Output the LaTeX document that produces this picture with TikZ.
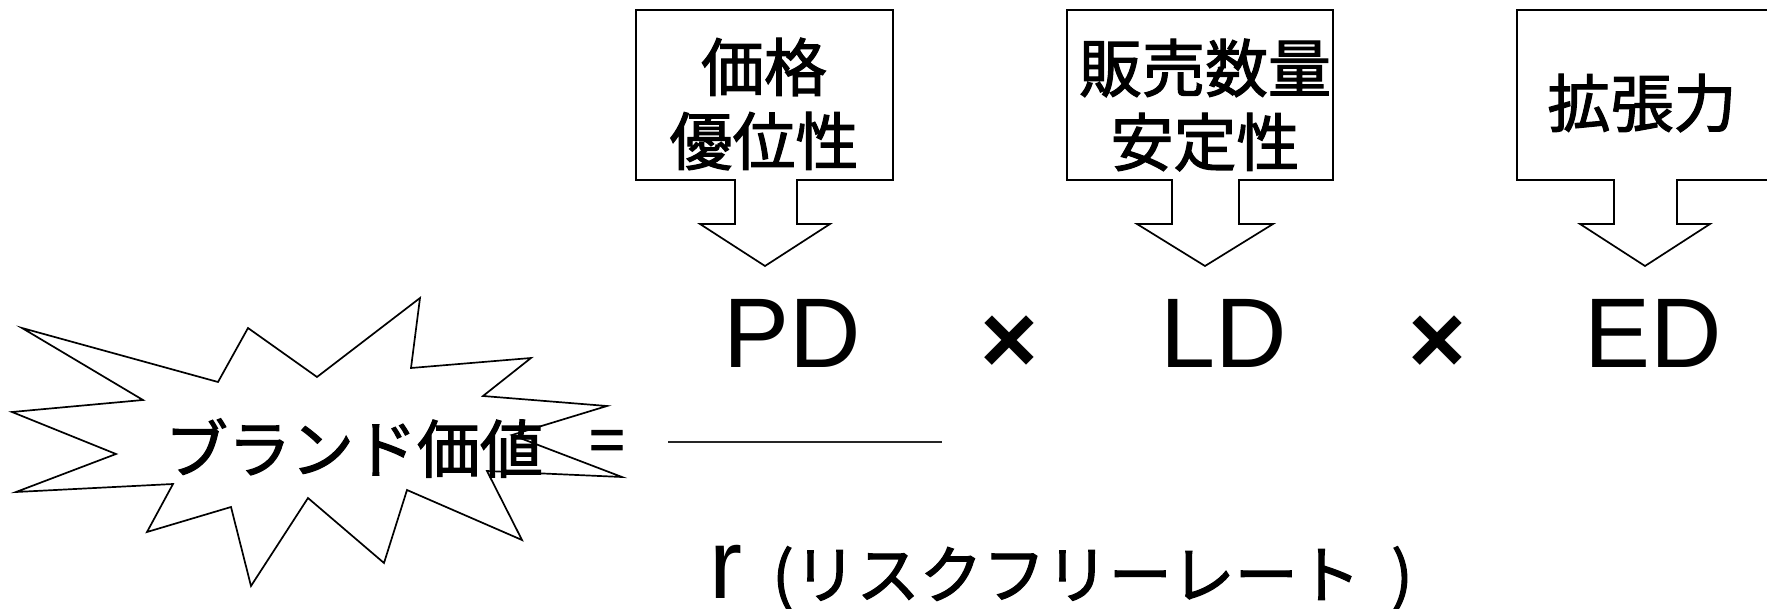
\documentclass[tikz,border=0pt]{standalone}
\usepackage{fontspec}
\setmainfont{Liberation Sans}
\newfontfamily\jp[FakeBold=1.8]{Noto Sans CJK JP}
\begin{document}
\begin{tikzpicture}[x=0.5pt,y=-0.5pt,
  outline/.style={draw=black,line width=0.85pt,line join=miter},
  lbl/.style={font=\jp\fontsize{31.5}{37}\selectfont,align=center,inner sep=0pt},
  big/.style={font=\fontsize{49.5}{56}\selectfont,inner sep=0pt},
  kana/.style={font=\jp\fontsize{31.5}{37}\selectfont,inner sep=0pt}]
\useasboundingbox (0,0) rectangle (1767,609);
\clip (0,0) rectangle (1767,609);
% callouts
\draw[outline] (636,10) -- (893,10) -- (893,180) -- (797,180) -- (797,224) -- (830,224) -- (765,266) -- (700,224) -- (735,224) -- (735,180) -- (636,180) -- cycle;
\draw[outline] (1067,10) -- (1333,10) -- (1333,180) -- (1239,180) -- (1239,224) -- (1273,224) -- (1205,266) -- (1137,224) -- (1172,224) -- (1172,180) -- (1067,180) -- cycle;
\draw[outline] (1517,10) -- (1775,10) -- (1775,180) -- (1677,180) -- (1677,224) -- (1710,224) -- (1645,266) -- (1580,224) -- (1614,224) -- (1614,180) -- (1517,180) -- cycle;
\node[lbl] (c1) at (764,104) {価格\\優位性};
\node[lbl] (c2) at (1205,105) {販売数量\\安定性};
\node[lbl] (c3) at (1642,103) {拡張力};
% starburst
\draw[outline] (22,328) -- (218,382) -- (248,328) -- (317,377) -- (420,298) -- (411,368) -- (531,358) -- (483,396) -- (607,406) -- (512,435) -- (622,477) -- (487,471) -- (522,540) -- (407,490) -- (384,563) -- (308,498) -- (251,586) -- (231,507) -- (147,532) -- (173,484) -- (16,492) -- (116,454) -- (12,412) -- (143,400) -- cycle;
\node[kana] (bv) at (354,448) {ブランド価値};
\node[kana] (eq) at (607,447) {=};
% numerator
\node[big] (pd) at (792,333.5) {PD};
\node[big,font=\bfseries\fontsize{49.5}{56}\selectfont] (x1) at (1009,344.5) {×};
\node[big] (ld) at (1224,333.5) {LD};
\node[big,font=\bfseries\fontsize{49.5}{56}\selectfont] (x2) at (1437.5,344.5) {×};
\node[big] (ed) at (1653.5,333.5) {ED};
% fraction line
\coordinate (fl) at (668,442);
\coordinate (fr) at (942,442);
\draw[line width=1pt,black!85] (fl) -- (fr);
% denominator
\node[big,anchor=base] (r) at (725.5,598) {r};
\node[kana,anchor=base west] (rf) at (772,598) {(リスクフリーレート};
\node[kana,anchor=base] (rp) at (1402,598) {)};
\end{tikzpicture}
\end{document}
